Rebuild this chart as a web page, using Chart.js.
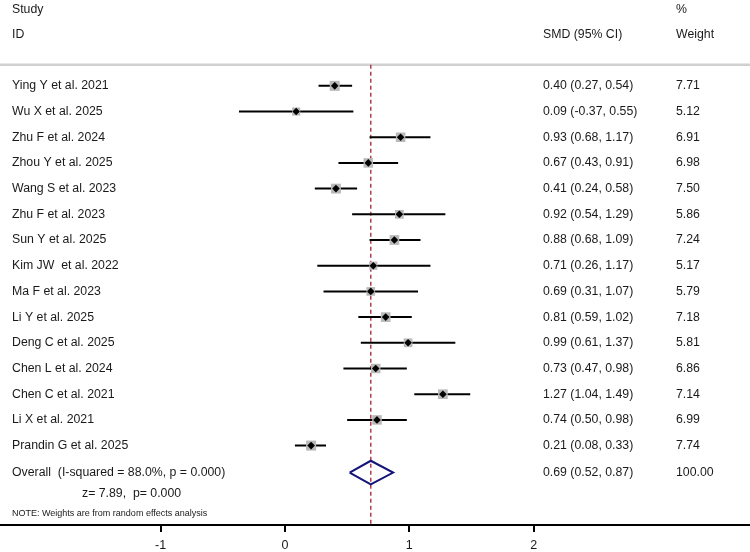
<!DOCTYPE html>
<html>
<head>
<meta charset="utf-8">
<script src="https://cdn.jsdelivr.net/npm/chart.js@4.4.1/dist/chart.umd.min.js"></script>
<style>
  html, body { margin: 0; padding: 0; background: #fff; }
  #wrap { width: 750px; height: 552px; }
</style>
</head>
<body>
<div id="wrap"><canvas id="forest"></canvas></div>
<script>
// Study data (SMD, 95% CI, % weight)
const studies = ['Ying Y et al. 2021', 'Wu X et al. 2025', 'Zhu F et al. 2024', 'Zhou Y et al. 2025',
    'Wang S et al. 2023', 'Zhu F et al. 2023', 'Sun Y et al. 2025', 'Kim JW  et al. 2022',
    'Ma F et al. 2023', 'Li Y et al. 2025', 'Deng C et al. 2025', 'Chen L et al. 2024',
    'Chen C et al. 2021', 'Li X et al. 2021', 'Prandin G et al. 2025'];
const smd = [0.40, 0.09, 0.93, 0.67, 0.41, 0.92, 0.88, 0.71, 0.69, 0.81, 0.99, 0.73, 1.27, 0.74, 0.21];
const lower = [0.27, -0.37, 0.68, 0.43, 0.24, 0.54, 0.68, 0.26, 0.31, 0.59, 0.61, 0.47, 1.04, 0.50, 0.08];
const upper = [0.54, 0.55, 1.17, 0.91, 0.58, 1.29, 1.09, 1.17, 1.07, 1.02, 1.37, 0.98, 1.49, 0.98, 0.33];
const weights = [7.71, 5.12, 6.91, 6.98, 7.50, 5.86, 7.24, 5.17, 5.79, 7.18, 5.81, 6.86, 7.14, 6.99, 7.74];

// Pooled estimate
const overall = [0.69, 0.52, 0.87];
const overallWeight = 100.00;
const overallLabel = 'Overall  (I-squared = 88.0%, p = 0.000)';
const zLabel = 'z= 7.89,  p= 0.000';
const noteLabel = 'NOTE: Weights are from random effects analysis';

const xTicks = [-1, 0, 1, 2];
const X_MIN = -2.292, X_MAX = 3.74;
const Y_MIN = -3.34, Y_MAX = 17.09;
const overallRow = studies.length + 0.05;

const FONT = '12.3px "Liberation Sans", Arial, sans-serif';
const TEXT = '#1a1a1a';

// CI lines, one dataset per study
const ciSets = studies.map((s, i) => ({
    type: 'line',
    data: [{ x: lower[i], y: i }, { x: upper[i], y: i }],
    borderColor: '#000',
    borderWidth: 2,
    pointRadius: 0,
    showLine: true,
    order: 3
}));

const textPlugin = {
    id: 'forestText',
    afterDatasetsDraw(chart) {
        const ctx = chart.ctx;
        const y = chart.scales.y;
        const put = (txt, x, row, font) => {
            ctx.font = font || FONT;
            ctx.fillText(txt, x, y.getPixelForValue(row));
        };
        ctx.save();
        ctx.fillStyle = TEXT;
        ctx.textAlign = 'left';
        ctx.textBaseline = 'middle';
        put('Study', 12, -2.96);
        put('ID', 12, -2.0);
        put('%', 676, -2.96);
        put('Weight', 676, -2.0);
        put('SMD (95% CI)', 543, -2.0);
        studies.forEach((s, i) => {
            put(s, 12, i);
            put(smd[i].toFixed(2) + ' (' + lower[i].toFixed(2) + ', ' + upper[i].toFixed(2) + ')', 543, i);
            put(weights[i].toFixed(2), 676, i);
        });
        put(overallLabel, 12, overallRow);
        put(overall[0].toFixed(2) + ' (' + overall[1].toFixed(2) + ', ' + overall[2].toFixed(2) + ')', 543, overallRow);
        put(overallWeight.toFixed(2), 676, overallRow);
        put(zLabel, 82, 15.86);
        put(noteLabel, 12, 16.65, '9px "Liberation Sans", Arial, sans-serif');
        ctx.restore();
    }
};

const ctx = document.getElementById('forest').getContext('2d');
const chart = new Chart(ctx, {
    type: 'line',
    data: {
        datasets: [
            // point estimates
            {
                data: smd.map((v, i) => ({ x: v, y: i })),
                showLine: false,
                pointStyle: 'rectRot',
                pointRadius: 3.8,
                backgroundColor: '#000',
                borderColor: '#000',
                borderWidth: 0,
                order: 0
            },
            // weight boxes
            {
                data: smd.map((v, i) => ({ x: v, y: i })),
                showLine: false,
                pointStyle: 'rect',
                pointRadius: c => 2.55 * Math.sqrt(weights[c.dataIndex]),
                backgroundColor: '#b9b9b9',
                borderWidth: 0,
                order: 1
            },
            // pooled diamond
            {
                data: [
                    { x: overall[1], y: overallRow },
                    { x: overall[0], y: overallRow - 0.46 },
                    { x: overall[2], y: overallRow },
                    { x: overall[0], y: overallRow + 0.46 },
                    { x: overall[1], y: overallRow }
                ],
                borderColor: '#14147a',
                borderWidth: 2,
                pointRadius: 0,
                tension: 0,
                order: 2
            },
            ...ciSets,
            // line of pooled effect
            {
                data: [{ x: overall[0], y: -0.82 }, { x: overall[0], y: Y_MAX }],
                borderColor: '#ad4050',
                borderWidth: 1.5,
                borderDash: [4, 3],
                pointRadius: 0,
                order: 5
            },
            // header separator
            {
                data: [{ x: X_MIN, y: -0.82 }, { x: X_MAX, y: -0.82 }],
                borderColor: '#d0d0d0',
                borderWidth: 2.5,
                pointRadius: 0,
                order: 6
            }
        ]
    },
    options: {
        responsive: true,
        maintainAspectRatio: false,
        animation: false,
        devicePixelRatio: 1,
        layout: { padding: 0, autoPadding: false },
        plugins: {
            legend: { display: false },
            tooltip: { enabled: false }
        },
        scales: {
            x: {
                type: 'linear',
                position: 'bottom',
                min: X_MIN,
                max: X_MAX,
                afterBuildTicks: scale => {
                    scale.ticks = xTicks.map(v => ({ value: v }));
                },
                afterFit: scale => {
                    scale.height = 27;
                },
                ticks: {
                    autoSkip: false,
                    maxRotation: 0,
                    padding: 6,
                    color: TEXT,
                    font: { family: '"Liberation Sans", Arial, sans-serif', size: 12.5 },
                    callback: v => String(v)
                },
                grid: {
                    drawOnChartArea: false,
                    drawTicks: true,
                    tickLength: 7,
                    color: '#000',
                    lineWidth: 2
                },
                border: { display: true, color: '#000', width: 2 }
            },
            y: {
                type: 'linear',
                display: false,
                reverse: true,
                min: Y_MIN,
                max: Y_MAX
            }
        }
    },
    plugins: [textPlugin]
});
</script>
</body>
</html>
